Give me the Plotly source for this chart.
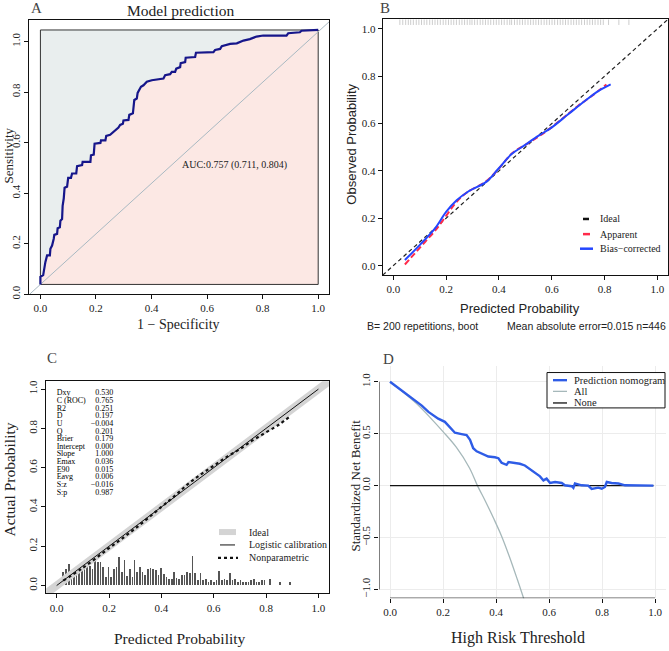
import plotly.graph_objects as go

W, H = 669, 651
SERIF = "Liberation Serif"
SANS = "Liberation Sans"
TXT = "#222222"

# ---------------- Panel A : ROC ----------------
roc_fpr = [0.0, 0.0, 0.01, 0.012, 0.018, 0.024, 0.034, 0.036, 0.042, 0.048, 0.05, 0.06, 0.062, 0.07,
           0.072, 0.078, 0.08, 0.084, 0.087, 0.096, 0.1, 0.11, 0.114, 0.129, 0.132, 0.15, 0.152, 0.18,
           0.182, 0.192, 0.195, 0.216, 0.218, 0.234, 0.237, 0.251, 0.269, 0.281, 0.287, 0.297, 0.299,
           0.317, 0.32, 0.333, 0.338, 0.347, 0.35, 0.357, 0.362, 0.371, 0.383, 0.401, 0.419, 0.443,
           0.449, 0.467, 0.473, 0.485, 0.489, 0.503, 0.505, 0.521, 0.523, 0.557, 0.56, 0.623, 0.629,
           0.647, 0.653, 0.683, 0.707, 0.731, 0.754, 0.778, 0.802, 0.886, 0.892, 0.934, 0.94, 1.0]
roc_tpr = [0.039, 0.069, 0.076, 0.095, 0.128, 0.154, 0.154, 0.18, 0.193, 0.22, 0.235, 0.239, 0.261, 0.265,
           0.291, 0.298, 0.35, 0.379, 0.422, 0.426, 0.461, 0.461, 0.478, 0.478, 0.507, 0.511, 0.524, 0.524,
           0.55, 0.553, 0.596, 0.599, 0.609, 0.609, 0.627, 0.631, 0.647, 0.66, 0.67, 0.675, 0.688,
           0.69, 0.71, 0.716, 0.769, 0.775, 0.797, 0.808, 0.821, 0.827, 0.841, 0.847, 0.851, 0.854,
           0.867, 0.871, 0.88, 0.88, 0.893, 0.899, 0.915, 0.919, 0.936, 0.939, 0.956, 0.958, 0.967,
           0.971, 0.982, 0.991, 0.993, 1.004, 1.01, 1.02, 1.024, 1.024, 1.033, 1.037, 1.043, 1.046]
auc_label = "AUC:0.757 (0.711, 0.804)"
a_title = "Model prediction"

# ---------------- Panel B : bootstrap calibration ----------------
app_x = [0.044, 0.08, 0.12, 0.16, 0.2, 0.24, 0.28, 0.35, 0.4, 0.45, 0.5, 0.55, 0.6, 0.65, 0.7, 0.75, 0.807]
app_y = [0.005, 0.05, 0.1, 0.15, 0.21, 0.27, 0.31, 0.355, 0.41, 0.475, 0.51, 0.545, 0.585, 0.63, 0.675, 0.715, 0.765]
bc_x = [0.044, 0.1, 0.158, 0.2, 0.24, 0.284, 0.353, 0.397, 0.448, 0.498, 0.549, 0.599, 0.662, 0.725, 0.776, 0.823]
bc_y = [0.024, 0.087, 0.157, 0.227, 0.276, 0.313, 0.355, 0.408, 0.471, 0.509, 0.548, 0.583, 0.639, 0.695, 0.737, 0.765]
b_note_left = "B= 200 repetitions, boot"
b_note_right = "Mean absolute error=0.015 n=446"

# ---------------- Panel C : val.prob ----------------
hist_x = [0.025, 0.036, 0.047, 0.057, 0.066, 0.076, 0.087, 0.097, 0.107, 0.117, 0.127, 0.138, 0.148, 0.158,
          0.168, 0.178, 0.189, 0.199, 0.209, 0.219, 0.229, 0.239, 0.25, 0.26, 0.27, 0.28, 0.29, 0.298,
          0.308, 0.318, 0.329, 0.339, 0.349, 0.359, 0.369, 0.38, 0.39, 0.4, 0.41, 0.42, 0.431, 0.441,
          0.448, 0.459, 0.469, 0.479, 0.489, 0.499, 0.51, 0.52, 0.53, 0.54, 0.55, 0.56, 0.571, 0.581,
          0.591, 0.601, 0.611, 0.622, 0.632, 0.642, 0.652, 0.662, 0.673, 0.683, 0.693, 0.703, 0.713,
          0.724, 0.734, 0.744, 0.754, 0.764, 0.775, 0.785, 0.795, 0.815, 0.854, 0.892]
hist_h = [0.067, 0.084, 0.109, 0.059, 0.076, 0.084, 0.101, 0.118, 0.092, 0.109, 0.097, 0.084, 0.151, 0.118,
          0.118, 0.092, 0.042, 0.092, 0.042, 0.084, 0.092, 0.143, 0.067, 0.129, 0.047, 0.084, 0.042, 0.129,
          0.067, 0.092, 0.067, 0.054, 0.084, 0.087, 0.084, 0.076, 0.05, 0.087, 0.059, 0.042, 0.034, 0.034,
          0.067, 0.037, 0.034, 0.05, 0.05, 0.067, 0.064, 0.151, 0.064, 0.025, 0.064, 0.025, 0.034, 0.017,
          0.025, 0.017, 0.025, 0.074, 0.025, 0.03, 0.025, 0.064, 0.025, 0.034, 0.017, 0.025, 0.017,
          0.017, 0.017, 0.025, 0.03, 0.017, 0.017, 0.025, 0.025, 0.034, 0.017, 0.017]
logit_x = [0.0, 1.0]
logit_y = [0.0, 1.0]
np_x = [0.025, 0.1, 0.2, 0.3, 0.4, 0.45, 0.5, 0.55, 0.6, 0.65, 0.7, 0.75, 0.8, 0.85, 0.89]
np_y = [0.025, 0.09, 0.19, 0.29, 0.4, 0.455, 0.515, 0.565, 0.61, 0.655, 0.695, 0.74, 0.78, 0.82, 0.86]
stat_names = ["Dxy", "C (ROC)", "R2", "D", "U", "Q", "Brier", "Intercept", "Slope", "Emax", "E90", "Eavg", "S:z", "S:p"]
stat_vals = ["0.530", "0.765", "0.251", "0.197", "\u22120.004", "0.201", "0.179", "0.000", "1.000", "0.036",
             "0.015", "0.006", "\u22120.016", "0.987"]

# ---------------- Panel D : decision curve ----------------
dca_t = [0.0, 0.094, 0.12, 0.145, 0.182, 0.207, 0.226, 0.245, 0.27, 0.289, 0.302, 0.314, 0.327, 0.346, 0.371,
         0.396, 0.409, 0.421, 0.44, 0.447, 0.472, 0.49, 0.509, 0.528, 0.547, 0.566, 0.579, 0.591, 0.604,
         0.623, 0.648, 0.66, 0.686, 0.692, 0.698, 0.723, 0.748, 0.761, 0.786, 0.799, 0.811, 0.818, 0.836,
         0.862, 0.887, 0.994]
dca_model = [1.0, 0.82, 0.77, 0.71, 0.645, 0.614, 0.566, 0.509, 0.496, 0.486, 0.44, 0.36, 0.33, 0.305, 0.28,
             0.273, 0.264, 0.22, 0.2, 0.226, 0.216, 0.21, 0.194, 0.159, 0.127, 0.089, 0.05, 0.067, 0.025,
             0.035, 0.025, 0.003, -0.006, -0.022, 0.02, 0.003, 0.0, -0.032, -0.02, -0.03, -0.013, 0.035,
             0.025, 0.02, 0.003, 0.0]
all_t = [0.0, 0.05, 0.1, 0.15, 0.2, 0.25, 0.3, 0.33, 0.36, 0.39, 0.42, 0.45, 0.48, 0.51]
all_nb = [1.0, 0.9, 0.79, 0.66, 0.52, 0.37, 0.17, 0.0, -0.15, -0.31, -0.48, -0.68, -0.9, -1.13]
none_t = [0.0, 0.994]
none_nb = [0.0, 0.0]

ticks01 = [0.0, 0.2, 0.4, 0.6, 0.8, 1.0]
ticks_d_y = [-1.0, -0.5, 0.0, 0.5, 1.0]

R01 = [-0.04, 1.04]
A_yr = [0.0, 1.085]
D_yr = [-1.084, 1.15]


def px(x):
    return x / W


def py(y):
    return 1 - y / H


fig = go.Figure()

# ---- Panel A traces ----
fig.add_trace(go.Scatter(x=[roc_fpr[0]] + roc_fpr + [roc_fpr[-1]], y=[roc_tpr[0]] + roc_tpr + [roc_tpr[0]],
                         fill="toself", fillcolor="#fce8e4", line=dict(width=0), mode="lines",
                         hoverinfo="skip", xaxis="x", yaxis="y"))
rx0, rx1, ry0, ry1 = min(roc_fpr), max(roc_fpr), min(roc_tpr), max(roc_tpr)
fig.add_trace(go.Scatter(x=[rx0, rx1, rx1, rx0, rx0], y=[ry0, ry0, ry1, ry1, ry0], mode="lines",
                         line=dict(color="#333333", width=1), xaxis="x", yaxis="y"))
fig.add_trace(go.Scatter(x=R01, y=[v + roc_tpr[0] for v in R01], mode="lines",
                         line=dict(color="#a9b9c2", width=1), xaxis="x", yaxis="y"))
fig.add_trace(go.Scatter(x=roc_fpr, y=roc_tpr, mode="lines", line=dict(color="#16168a", width=2.2),
                         xaxis="x", yaxis="y"))

# ---- Panel B traces ----
fig.add_trace(go.Scatter(x=R01, y=R01, mode="lines", line=dict(color="#222222", width=1.2, dash="4px,3px"),
                         xaxis="x2", yaxis="y2"))
fig.add_trace(go.Scatter(x=hist_x, y=[1.028] * len(hist_x), mode="markers",
                         marker=dict(symbol="line-ns", size=4, line=dict(color="#cdcdcd", width=1)),
                         xaxis="x2", yaxis="y2"))
fig.add_trace(go.Scatter(x=app_x, y=app_y, mode="lines", line=dict(color="#ff2a4a", width=2, dash="6px,3px"),
                         line_shape="spline", xaxis="x2", yaxis="y2"))
fig.add_trace(go.Scatter(x=bc_x, y=bc_y, mode="lines", line=dict(color="#2446ff", width=2),
                         line_shape="spline", xaxis="x2", yaxis="y2"))

# ---- Panel C traces ----
fig.add_trace(go.Scatter(x=R01, y=R01, mode="lines", line=dict(color="#d4d4d4", width=8),
                         xaxis="x3", yaxis="y3"))
fig.add_trace(go.Bar(x=hist_x, y=hist_h, width=0.0028, marker=dict(color="#555555", line=dict(width=0)),
                     xaxis="x3", yaxis="y3"))
fig.add_trace(go.Scatter(x=logit_x, y=logit_y, mode="lines", line=dict(color="#111111", width=1),
                         xaxis="x3", yaxis="y3"))
fig.add_trace(go.Scatter(x=np_x, y=np_y, mode="lines", line=dict(color="#111111", width=2.2, dash="dot"),
                         line_shape="spline", xaxis="x3", yaxis="y3"))
stat_y = [0.978 - i * 0.0388 for i in range(len(stat_names))]
fig.add_trace(go.Scatter(x=[0.0] * len(stat_names), y=stat_y, text=stat_names, mode="text",
                         textposition="middle right", textfont=dict(family=SERIF, size=8, color="#000000"),
                         xaxis="x3", yaxis="y3"))
fig.add_trace(go.Scatter(x=[0.216] * len(stat_vals), y=stat_y, text=stat_vals, mode="text",
                         textposition="middle left", textfont=dict(family=SERIF, size=8, color="#000000"),
                         xaxis="x3", yaxis="y3"))

# ---- Panel D traces ----
fig.add_trace(go.Scatter(x=all_t, y=all_nb, mode="lines", line=dict(color="#a6b8ba", width=1.3),
                         line_shape="spline", xaxis="x4", yaxis="y4"))
fig.add_trace(go.Scatter(x=none_t, y=none_nb, mode="lines", line=dict(color="#111111", width=1.3),
                         xaxis="x4", yaxis="y4"))
fig.add_trace(go.Scatter(x=dca_t, y=dca_model, mode="lines", line=dict(color="#2e5ce6", width=2.4),
                         xaxis="x4", yaxis="y4"))

tickfont = dict(family=SERIF, size=11, color=TXT)


def box_axis(domain, rng, angle=0, mirror=True):
    return dict(domain=domain, range=rng, showgrid=False, zeroline=False, showline=True, mirror=mirror,
                linecolor="#111111", linewidth=1, ticks="outside", ticklen=4, tickcolor="#111111",
                tickvals=ticks01, ticktext=["%.1f" % v for v in ticks01], tickfont=tickfont,
                tickangle=angle)


xa = box_axis([px(29.3), px(329.3)], R01)
ya = box_axis([py(296), py(19.3)], A_yr, angle=-90)
xb = box_axis([px(382.7), px(668)], R01)
yb = box_axis([py(276.7), py(18.5)], R01)
xc = box_axis([px(46.2), px(328.9)], R01)
yc = box_axis([py(597.9), py(383.8)], R01, angle=-90)
xd = dict(domain=[px(379.4), px(665.6)], range=R01, showgrid=True, gridcolor="#ececec", gridwidth=1,
          zeroline=False, showline=False, ticks="outside", ticklen=4, tickcolor="#111111",
          tickvals=ticks01, ticktext=["%.1f" % v for v in ticks01], tickfont=tickfont)
yd = dict(domain=[py(602.7), py(368.6)], range=D_yr, showgrid=True, gridcolor="#ececec", gridwidth=1,
          zeroline=False, showline=False, ticks="outside", ticklen=4, tickcolor="#111111",
          tickvals=ticks_d_y, ticktext=[("%.1f" % v).replace("-", "\u2212") for v in ticks_d_y],
          tickfont=tickfont, tickangle=-90)

shapes = [
    dict(type="rect", xref="x", yref="y", x0=rx0, x1=rx1, y0=ry0, y1=ry1, fillcolor="#e9eeee",
         line=dict(width=0), layer="below"),
    dict(type="line", xref="x4", yref="y4", x0=R01[0], x1=R01[0], y0=min(ticks_d_y), y1=max(ticks_d_y),
         line=dict(color="#111111", width=1)),
    dict(type="line", xref="x4", yref="y4", x0=min(ticks01), x1=max(ticks01), y0=D_yr[0], y1=D_yr[0],
         line=dict(color="#111111", width=1)),
]


def seg(x0, x1, y, color, width, dash="solid"):
    return dict(type="line", xref="paper", yref="paper", x0=px(x0), x1=px(x1), y0=py(y), y1=py(y),
                line=dict(color=color, width=width, dash=dash))


shapes += [seg(583, 589, 220, "#111111", 2.5), seg(583, 590, 235.3, "#ff2a4a", 2.5),
           seg(580, 593, 250, "#2446ff", 2.5)]
shapes += [seg(219, 236, 536, "#d4d4d4", 6), seg(220, 235, 549, "#111111", 1),
           seg(218, 238, 562, "#111111", 2.2, "dot")]
shapes += [dict(type="rect", xref="paper", yref="paper", x0=px(547), x1=px(665), y0=py(410.7), y1=py(375),
                line=dict(color="#111111", width=1), fillcolor="white"),
           seg(553, 567, 382.7, "#2e5ce6", 2.4), seg(553, 567, 394, "#a6b8ba", 1.3),
           seg(553, 567, 405.7, "#111111", 1.3)]


def ann(text, x, y, size, family=SERIF, xanchor="center", yanchor="middle", angle=0, color=TXT):
    return dict(text=text, x=px(x), y=py(y), xref="paper", yref="paper", showarrow=False,
                font=dict(size=size, family=family, color=color), xanchor=xanchor, yanchor=yanchor,
                textangle=angle)


annotations = [
    ann("A", 36.5, 7, 15, color="#444444"),
    ann(a_title, 180, 9.5, 15.5),
    ann("Sensitivity", 9, 156, 13, angle=-90),
    ann("1 \u2212 Specificity", 178, 327, 14),
    dict(text=auc_label, x=0.503, y=0.511, xref="x", yref="y", showarrow=False, xanchor="left",
         font=dict(size=10, family=SERIF, color=TXT)),
    ann("B", 385, 7, 15, color="#444444"),
    ann("Observed Probability", 352, 145, 13, family=SANS, angle=-90),
    ann("Predicted Probability", 520, 310, 13, family=SANS),
    ann(b_note_left, 365, 328, 10.5, family=SANS, xanchor="left"),
    ann(b_note_right, 668, 328, 10.5, family=SANS, xanchor="right"),
    ann("Ideal", 598, 220, 10, xanchor="left"),
    ann("Apparent", 597.5, 235.3, 10, xanchor="left"),
    ann("Bias\u2212corrected", 597.5, 250, 10, xanchor="left"),
    ann("C", 52, 360, 15, color="#444444"),
    ann("Actual Probability", 10, 483, 15.5, angle=-90),
    ann("Predicted Probability", 180, 643, 15.5),
    ann("Ideal", 247, 536, 10, xanchor="left"),
    ann("Logistic calibration", 247, 549, 10, xanchor="left"),
    ann("Nonparametric", 247, 562, 10, xanchor="left"),
    ann("D", 388, 361.5, 15, color="#444444"),
    ann("Standardized Net Benefit", 355, 489, 13, angle=-90),
    ann("High Risk Threshold", 518, 643, 16),
    ann("Prediction nomogram", 572, 382.7, 10.5, xanchor="left"),
    ann("All", 572, 394, 10.5, xanchor="left"),
    ann("None", 572, 405.7, 10.5, xanchor="left"),
]

fig.update_layout(
    width=W, height=H, margin=dict(l=0, r=0, t=0, b=0),
    paper_bgcolor="white", plot_bgcolor="white", showlegend=False,
    xaxis=xa, yaxis=dict(ya, anchor="x"), xaxis2=dict(xb, anchor="y2"), yaxis2=dict(yb, anchor="x2"),
    xaxis3=dict(xc, anchor="y3"), yaxis3=dict(yc, anchor="x3"),
    xaxis4=dict(xd, anchor="y4"), yaxis4=dict(yd, anchor="x4"),
    shapes=shapes, annotations=annotations, bargap=0,
)
fig.write_html("out.html", config={"displayModeBar": False},
               post_script="document.body.style.margin='0';document.body.style.overflow='hidden';")
